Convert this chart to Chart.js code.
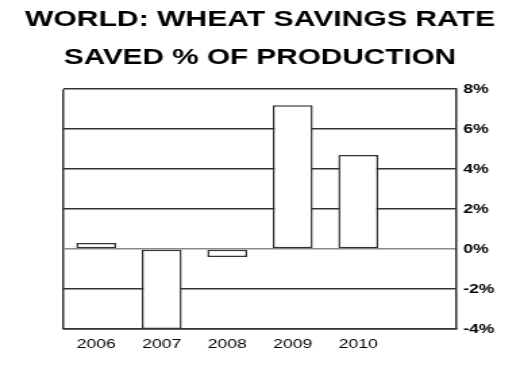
<!DOCTYPE html>
<html>
<head>
<meta charset="utf-8">
<script src="https://cdn.jsdelivr.net/npm/chart.js@4"></script>
<style>
  html, body { margin: 0; padding: 0; background: #fff; overflow: hidden; }
  /* the original picture is stretched sideways, so draw narrow and stretch */
  .wrap { width: 385px; height: 389px; transform: scaleX(1.3506); transform-origin: 0 0; }
</style>
</head>
<body>
<div class="wrap"><canvas id="wheat-chart"></canvas></div>
<script>
// data
const years = ['2006', '2007', '2008', '2009', '2010', ''];
const savedPct = [0.3, -4.0, -0.4, 7.2, 4.7, null];
const titleText = 'WORLD: WHEAT SAVINGS RATE';
const subtitleText = 'SAVED % OF PRODUCTION';
const yMin = -4;
const yMax = 8;
const yStep = 2;

const lineColor = '#333333';
const fontFamily = '"Liberation Sans", Arial, sans-serif';

new Chart(document.getElementById('wheat-chart'), {
  type: 'bar',
  data: {
    labels: years,
    datasets: [{
      data: savedPct,
      backgroundColor: '#ffffff',
      borderColor: lineColor,
      borderWidth: 1.5,
      borderSkipped: false,
      barPercentage: 0.61,
      categoryPercentage: 1,
      yAxisID: 'y'
    }]
  },
  options: {
    responsive: true,
    maintainAspectRatio: false,
    animation: false,
    layout: { padding: 0 },
    plugins: {
      legend: { display: false },
      tooltip: { enabled: false },
      title: {
        display: true,
        text: titleText,
        color: '#000',
        font: { family: fontFamily, size: 22.3, weight: 'bold', lineHeight: 1.2 },
        padding: { top: 6, bottom: 0 }
      },
      subtitle: {
        display: true,
        text: subtitleText,
        color: '#000',
        font: { family: fontFamily, size: 22, weight: 'bold', lineHeight: 1.2 },
        padding: { top: 12, bottom: 18 }
      }
    },
    scales: {
      x: {
        grid: {
          drawTicks: false,
          color: (ctx) => ctx.index === 0 ? lineColor : 'rgba(0,0,0,0)',
          lineWidth: 1.5
        },
        border: { display: true, color: lineColor, width: 1.5 },
        ticks: {
          color: '#000',
          padding: 8,
          font: { family: fontFamily, size: 13 }
        },
        afterFit: (scale) => { scale.height = 60; }
      },
      // empty left axis, only keeps the white margin left of the plot
      yLeft: {
        position: 'left',
        min: yMin,
        max: yMax,
        grid: { display: false },
        border: { display: false },
        ticks: { display: false },
        afterFit: (scale) => { scale.width = 47; }
      },
      y: {
        position: 'right',
        min: yMin,
        max: yMax,
        grid: {
          drawTicks: false,
          color: (ctx) => ctx.tick && ctx.tick.value === 0 ? '#8a8a8a' : lineColor,
          lineWidth: 1.5
        },
        border: { display: true, color: lineColor, width: 1.5 },
        ticks: {
          stepSize: yStep,
          color: '#000',
          padding: 5,
          font: { family: fontFamily, size: 13, weight: 'bold' },
          callback: (v) => v + '%'
        },
        afterFit: (scale) => { scale.width = 47; }
      }
    }
  }
});
</script>
</body>
</html>
